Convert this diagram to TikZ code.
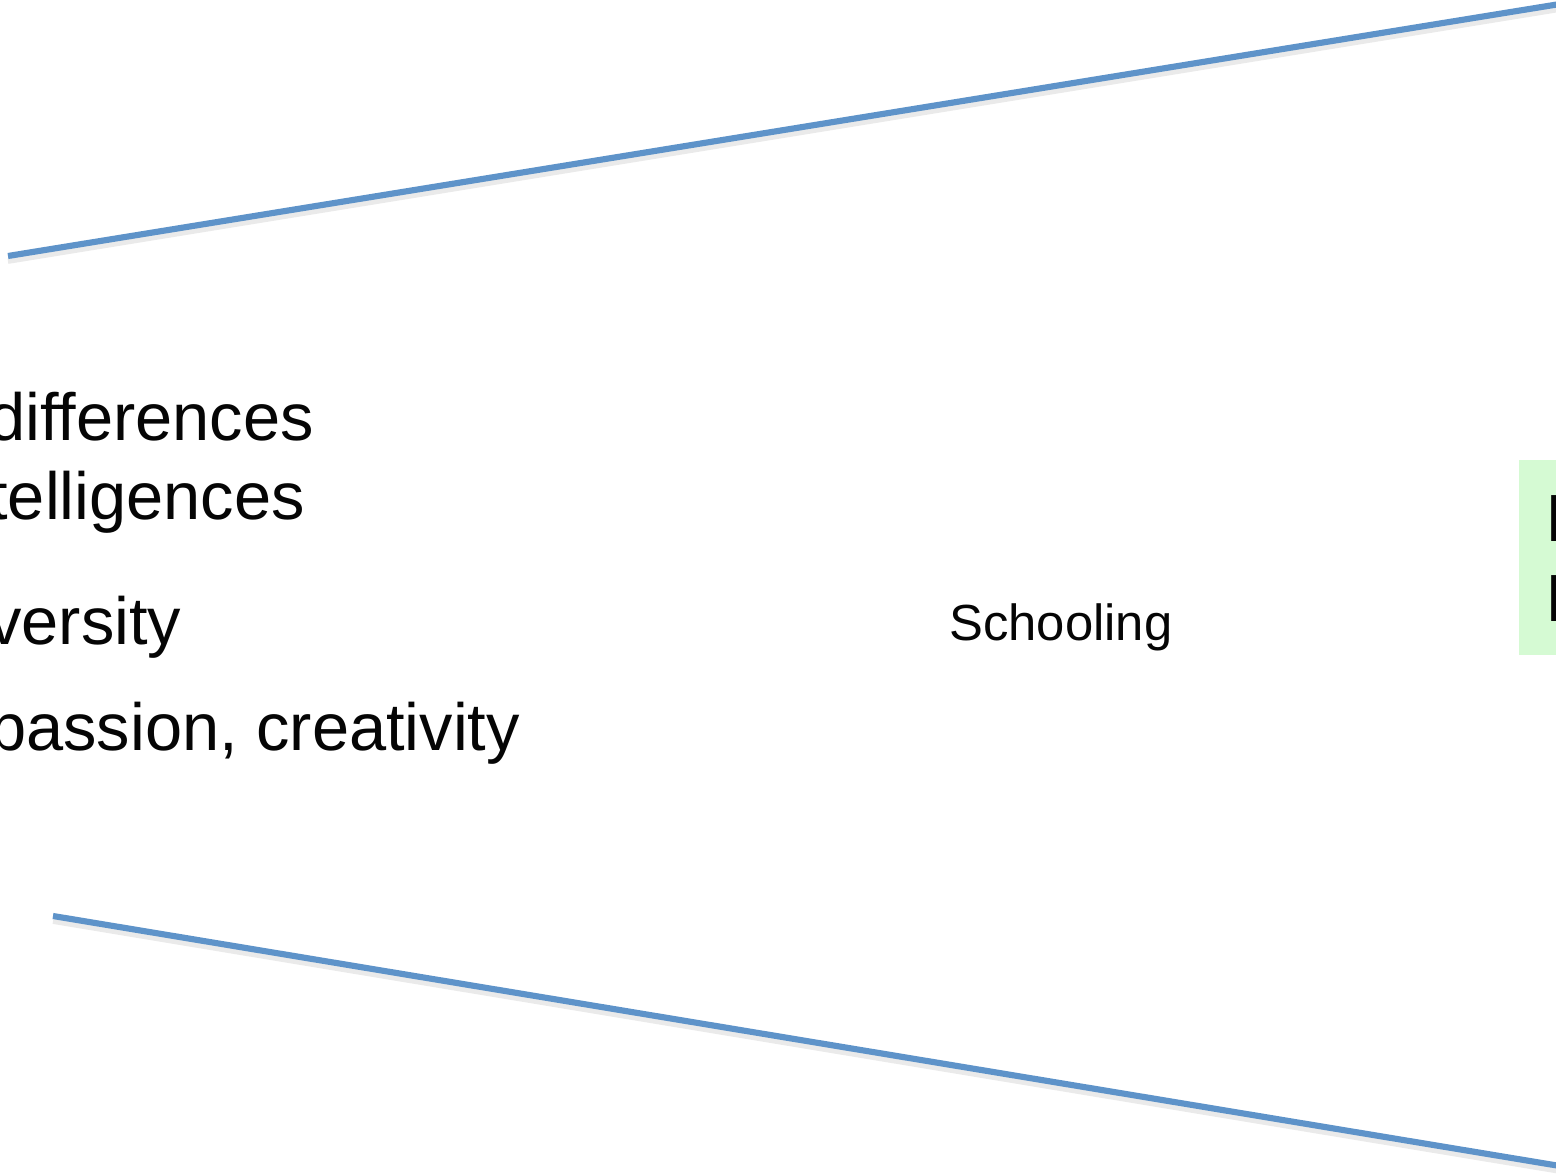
\documentclass[tikz,border=0pt]{standalone}
\usepackage{fontspec}
\setmainfont{Liberation Sans}
\usetikzlibrary{positioning}
\definecolor{fnblue}{HTML}{5E93C9}
\definecolor{fnshade}{HTML}{EAEAEA}
\definecolor{fngreen}{HTML}{D5FAD3}
\definecolor{fnink}{HTML}{050505}
\tikzset{
  fnedge/.style={draw=fnblue, line width=3.5pt},
  fnshadow/.style={draw=fnshade, line width=3pt},
  fnbig/.style={anchor=base west, inner sep=0pt, text=fnink,
    font=\fontsize{38}{40}\selectfont},
  fnsmall/.style={anchor=base west, inner sep=0pt, text=fnink,
    font=\fontsize{28.9}{32}\selectfont},
  fnbox/.style={fill=fngreen, draw=none, anchor=north west,
    minimum width=1cm, minimum height=3.9cm, inner sep=0pt},
}

\begin{document}
\begin{tikzpicture}[x=0.02cm, y=-0.02cm]
\useasboundingbox (0,0) rectangle (1556,1175);

% Funnel edges.
\coordinate (topL) at (8,256);
\coordinate (topR) at (1560,4);
\coordinate (botL) at (53,916);
\coordinate (botR) at (1560,1166);
\draw[fnshadow] ([yshift=-3pt]topL) -- ([yshift=-3pt]topR);
\draw[fnshadow] ([yshift=-3pt]botL) -- ([yshift=-3pt]botR);
\draw[fnedge] (topL) -- (topR);
\draw[fnedge] (botL) -- (botR);

% ------------------------------------------------------------ inputs
\node[fnbig] (diff) at (-12,441) {differences};
\node[fnbig] (intel) at (-11,520) {telligences};
\node[fnbig] (diver) at (-12,645) {versity};
\node[fnbig] (pass) at (-11,750) {passion, creativity};

% ------------------------------------------------------------ middle
\node[fnsmall] (school) at (949,641) {Schooling};

% ------------------------------------------------------------ output
\node[fnbox] (outbox) at (1519,460) {};
\node[fnbig] (outA) at (1545,542) {I};
\node[fnbig] (outB) at (1545,622) {I};

\end{tikzpicture}
\end{document}
